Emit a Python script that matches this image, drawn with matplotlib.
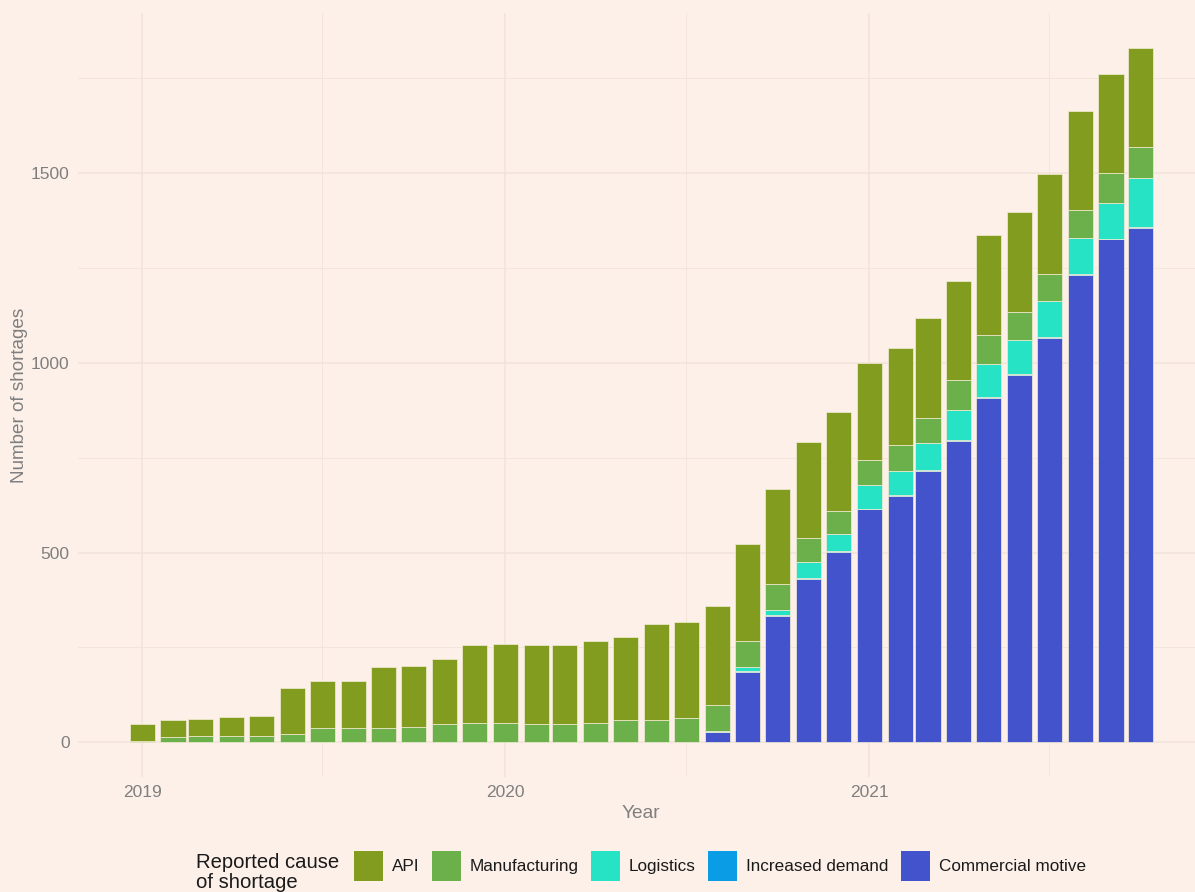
import matplotlib
matplotlib.use("Agg")
import matplotlib.pyplot as plt
import matplotlib.dates as mdates
from matplotlib.patches import Patch
import numpy as np
import pandas as pd

# ---- data -------------------------------------------------------------
months = pd.date_range("2019-01-01", "2021-10-01", freq="MS")

commercial_motive = [0, 0, 0, 0, 0, 0, 0, 0, 0, 0, 0, 0,
                     0, 0, 0, 0, 0, 0, 0, 27, 185, 334, 431, 501,
                     614, 649, 716, 795, 907, 969, 1066, 1233, 1326, 1357]
increased_demand = [0, 0, 0, 0, 0, 0, 0, 0, 0, 0, 0, 0,
                    0, 0, 0, 0, 0, 0, 0, 1, 2, 2, 2, 2,
                    2, 2, 2, 2, 3, 2, 2, 2, 2, 2]
logistics = [0, 0, 0, 0, 0, 0, 0, 0, 0, 0, 0, 0,
             0, 0, 0, 0, 0, 0, 0, 3, 12, 13, 41, 47,
             62, 65, 70, 79, 86, 90, 95, 94, 95, 128]
manufacturing = [4, 14, 17, 17, 17, 21, 38, 38, 38, 41, 48, 52,
                 52, 48, 48, 52, 59, 59, 65, 68, 67, 67, 65, 60,
                 65, 68, 68, 79, 78, 74, 71, 74, 77, 82]
api = [45, 45, 45, 49, 53, 123, 123, 123, 161, 160, 172, 205,
       207, 208, 208, 214, 218, 252, 252, 259, 257, 252, 252, 260,
       257, 256, 262, 262, 263, 263, 265, 261, 263, 262]

series = [
    ("Commercial motive", commercial_motive, "#4253CB"),
    ("Increased demand", increased_demand, "#0A9DE6"),
    ("Logistics", logistics, "#27E3C6"),
    ("Manufacturing", manufacturing, "#6CB04C"),
    ("API", api, "#829C20"),
]
legend_order = ["API", "Manufacturing", "Logistics", "Increased demand", "Commercial motive"]

# ---- figure -----------------------------------------------------------
W, H = 1195, 892
bg = "#FDF0E8"
grid_c = "#F2E3DA"
txt_grey = "#7F7F7F"

plt.rcParams["font.family"] = ["Liberation Sans", "DejaVu Sans"]

fig = plt.figure(figsize=(W / 100, H / 100), dpi=100, facecolor=bg)
left_px, right_px, top_px, bottom_px = 78, 1204, 13, 777
ax = fig.add_axes([left_px / W, 1 - bottom_px / H,
                   (right_px - left_px) / W, (bottom_px - top_px) / H])
ax.set_facecolor(bg)

x = mdates.date2num(months.to_pydatetime())
bottom = np.zeros(len(months))
for name, vals, col in series:
    v = np.array(vals, dtype=float)
    ax.bar(x, v, width=25.2, bottom=bottom, color=col, label=name,
           edgecolor="#F4ECD6", linewidth=0.5, zorder=3)
    bottom += v

ax.set_xlim(mdates.date2num(pd.Timestamp("2019-01-01")) - 64.5,
            mdates.date2num(pd.Timestamp("2021-10-01")) + 63.5)
ax.set_ylim(-91.5, 1922.6)

ax.xaxis.set_major_locator(mdates.YearLocator())
ax.xaxis.set_major_formatter(mdates.DateFormatter("%Y"))
ax.xaxis.set_minor_locator(mdates.MonthLocator(bymonth=7))
ax.set_yticks([0, 500, 1000, 1500])
ax.set_yticks([250, 750, 1250, 1750], minor=True)

ax.grid(True, which="major", color=grid_c, linewidth=1.1, zorder=0)
ax.grid(True, which="minor", color=grid_c, linewidth=0.6, zorder=0)
ax.set_axisbelow(True)
for s in ax.spines.values():
    s.set_visible(False)
ax.tick_params(which="both", length=0)
ax.tick_params(axis="y", pad=6, labelsize=12.5, labelcolor=txt_grey)
ax.tick_params(axis="x", pad=6, labelsize=12.5, labelcolor=txt_grey)

ax.set_xlabel("Year", fontsize=13.8, color=txt_grey)
ax.xaxis.set_label_coords(0.5, (bottom_px - 813) / (bottom_px - top_px))
ax.xaxis.label.set_va("center")
ax.set_ylabel("Number of shortages", fontsize=13.6, color=txt_grey)
ax.yaxis.set_label_coords((20 - left_px) / (right_px - left_px), 0.5)
ax.yaxis.label.set_va("center")

# ---- legend -----------------------------------------------------------
col_map = {n: c for n, _, c in series}
handles = [Patch(facecolor=col_map[n], edgecolor="none", label=n) for n in legend_order]
fig.text(196 / W, 1 - 853 / H, "Reported cause\nof shortage", fontsize=14.6,
         color="#1A1A1A", ha="left", va="top", linespacing=1.05)
leg = fig.legend(handles=handles, loc="center left",
                 bbox_to_anchor=(354 / W, 1 - 866 / H), ncol=5, frameon=False,
                 fontsize=12.3, handlelength=1.72, handleheight=2.25,
                 handletextpad=0.5, columnspacing=0.72, borderpad=0,
                 borderaxespad=0)
for t in leg.get_texts():
    t.set_color("#1A1A1A")

fig.savefig("out.png", dpi=100, facecolor=bg)
